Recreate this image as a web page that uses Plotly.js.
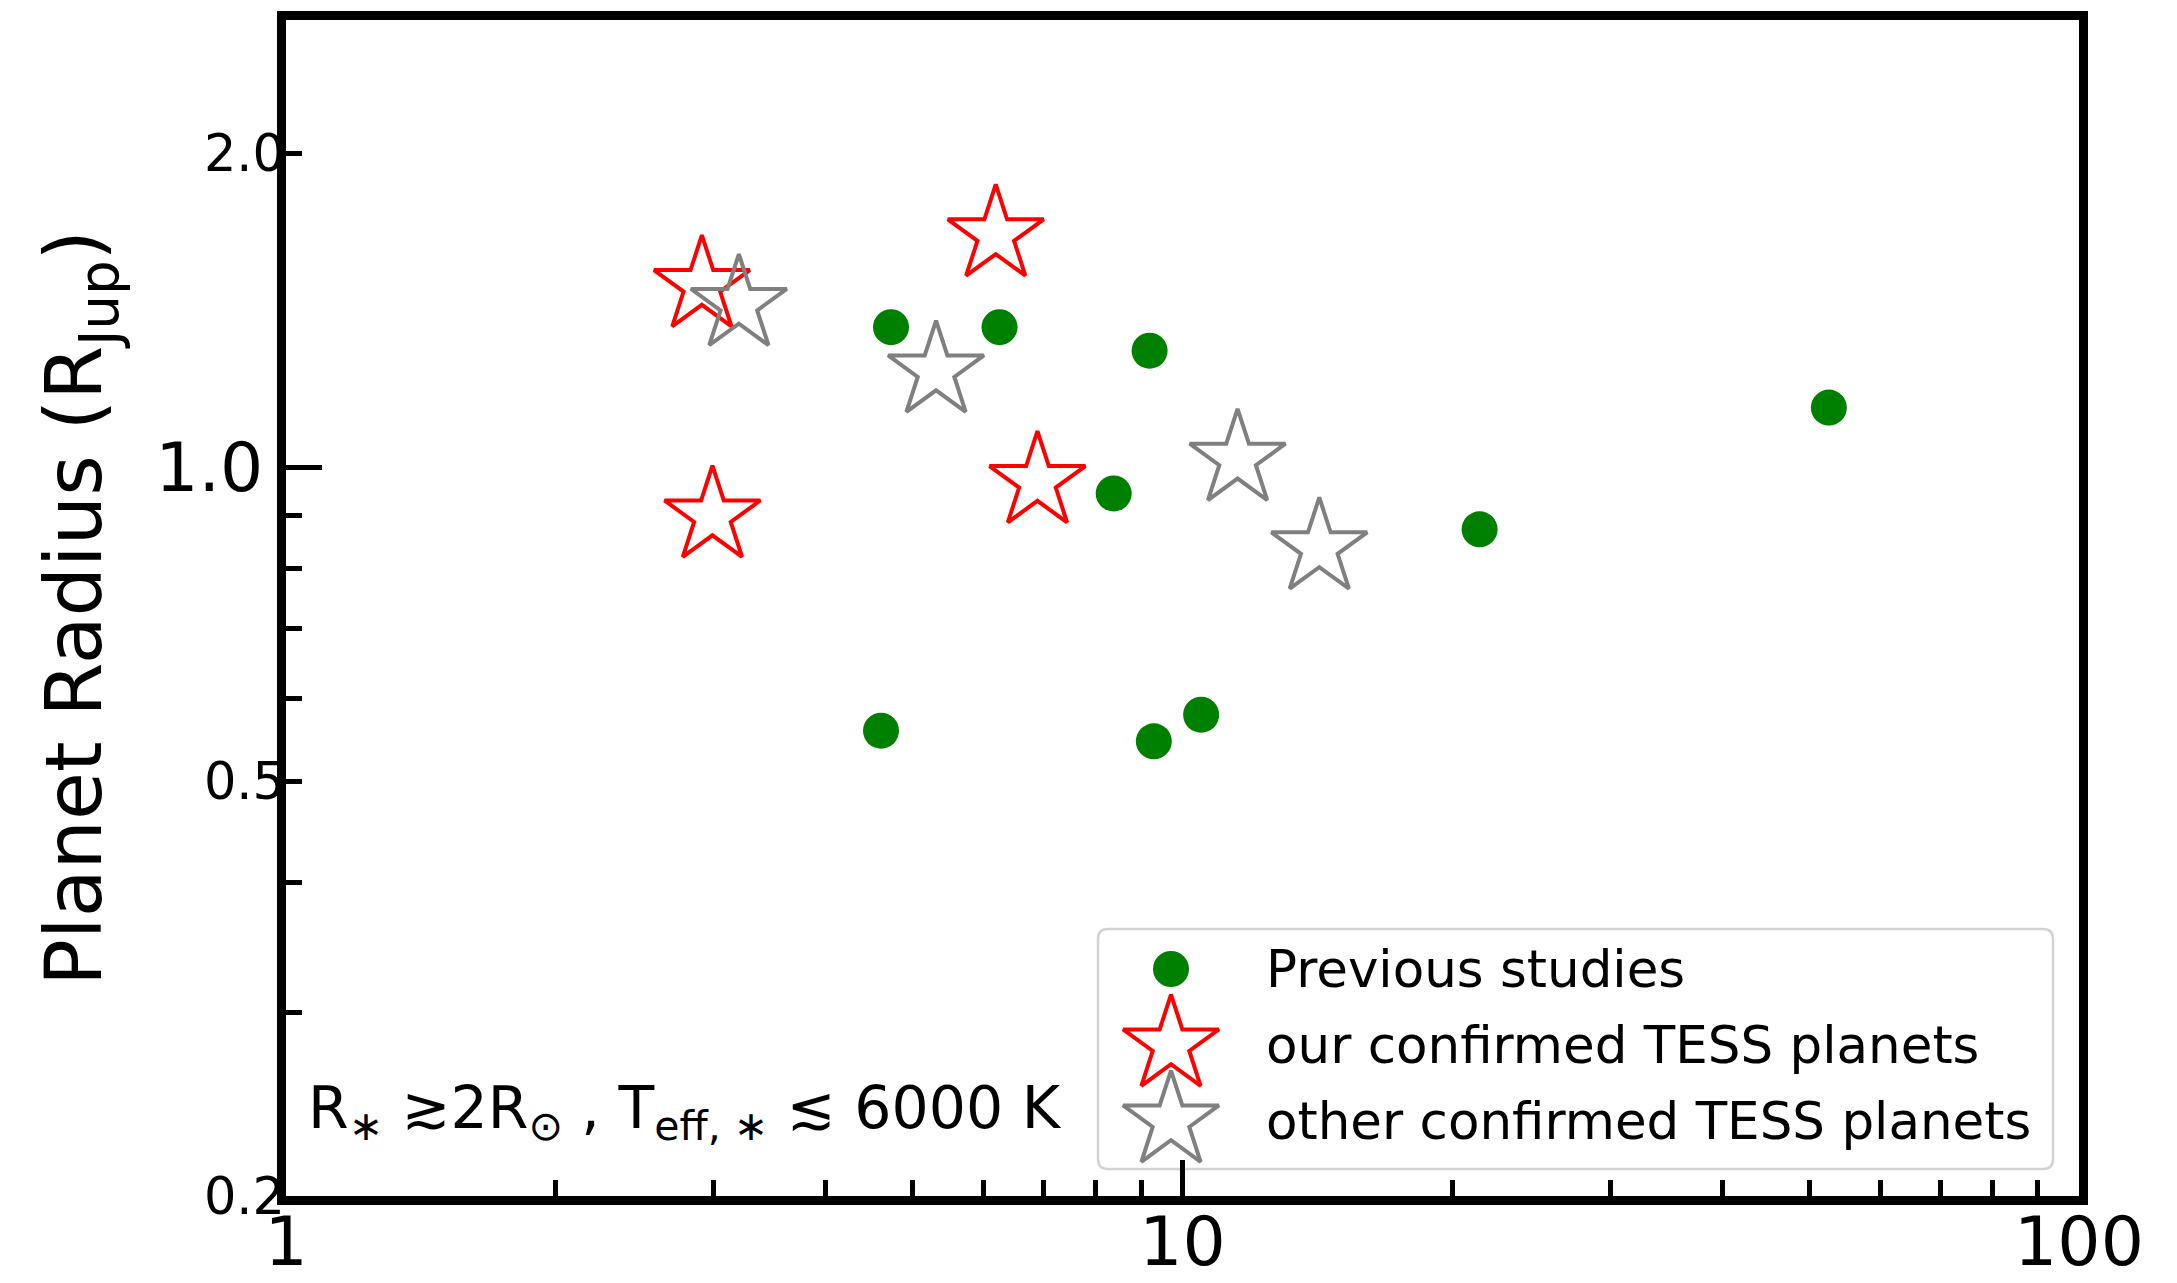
<!DOCTYPE html>
<html>
<head>
<meta charset="utf-8">
<script src="https://cdn.plot.ly/plotly-3.0.1.min.js"></script>
<style>html,body{margin:0;padding:0;background:#ffffff;}</style>
</head>
<body>
<div id="chart" style="width:2177px;height:1283px;"></div>
<script>
// ---- data (orbital period in days, planet radius in R_Jup) ----
const previousPeriod = [4.73, 6.25, 9.19, 52.6, 8.38, 21.45, 4.61, 9.29, 10.49];
const previousRadius = [1.363, 1.363, 1.294, 1.141, 0.944, 0.872, 0.559, 0.546, 0.579];
const ourPeriod = [2.91, 6.19, 2.99, 6.89];
const ourRadius = [1.494, 1.671, 0.898, 0.969];
const otherPeriod = [3.20, 5.31, 11.52, 14.21];
const otherRadius = [1.433, 1.237, 1.018, 0.837];

const seriesNames = ['Previous studies', 'our confirmed TESS planets', 'other confirmed TESS planets'];

const xTickVals = [1, 10, 100];
const xTickText = ['1', '10', '100'];
const xMinorVals = [2, 3, 4, 5, 6, 7, 8, 9, 20, 30, 40, 50, 60, 70, 80, 90];
const yBigVals = [1];
const yBigText = ['1.0'];
const ySmallVals = [0.2, 0.5, 2];
const ySmallText = ['0.2', '0.5', '2.0'];
const yMinorVals = [0.3, 0.4, 0.6, 0.7, 0.8, 0.9];

const xRange = [1, 100];
const yRange = [0.2, 2.686];

const noteText = 'R<sub>∗</sub> ≳2R<sub>⊙</sub> , T<sub>eff, ∗</sub> ≲ 6000 K';
const yTitle = 'Planet Radius (R<sub>Jup</sub>)';

// ---- layout geometry (pixels) ----
const W = 2177, H = 1283;
const M = {l: 286, r: 98, t: 20, b: 87};
const FONT = 'DejaVu Sans';

const GREEN = '#008000', RED = '#ff0000', GRAY = '#808080';
const STAR_SIZE = 72, DOT_SIZE = 36, STAR_LW = 4;

const traces = [
  {x: previousPeriod, y: previousRadius, name: seriesNames[0], type: 'scatter', mode: 'markers',
   yaxis: 'y2',
   marker: {symbol: 'circle', size: DOT_SIZE, color: GREEN, line: {width: 0}}},
  {x: ourPeriod, y: ourRadius, name: seriesNames[1], type: 'scatter', mode: 'markers',
   marker: {symbol: 'star-open', size: STAR_SIZE, color: RED, line: {width: STAR_LW, color: RED}}},
  {x: otherPeriod, y: otherRadius, name: seriesNames[2], type: 'scatter', mode: 'markers',
   marker: {symbol: 'star-open', size: STAR_SIZE, color: GRAY, line: {width: STAR_LW, color: GRAY}}}
];

// legend (drawn in a pixel-coordinate overlay so the symbols keep their plotted size)
const legendBox = {x0: 1098, x1: 2053, y0: 929, y1: 1169, r: 10};
const legendSymbolX = 1171;
const legendRowY = [969, 1045, 1121];
const legendTextX = 1264;

[traces[0].marker, traces[1].marker, traces[2].marker].forEach(function (mk, i) {
  traces.push({x: [legendSymbolX], y: [legendRowY[i]], xaxis: 'x2', yaxis: 'y3',
    type: 'scatter', mode: 'markers', showlegend: false, hoverinfo: 'skip', marker: mk});
});

const b = legendBox;
const roundRect = 'M ' + (b.x0 + b.r) + ' ' + b.y0 + ' L ' + (b.x1 - b.r) + ' ' + b.y0 +
  ' Q ' + b.x1 + ' ' + b.y0 + ' ' + b.x1 + ' ' + (b.y0 + b.r) +
  ' L ' + b.x1 + ' ' + (b.y1 - b.r) + ' Q ' + b.x1 + ' ' + b.y1 + ' ' + (b.x1 - b.r) + ' ' + b.y1 +
  ' L ' + (b.x0 + b.r) + ' ' + b.y1 + ' Q ' + b.x0 + ' ' + b.y1 + ' ' + b.x0 + ' ' + (b.y1 - b.r) +
  ' L ' + b.x0 + ' ' + (b.y0 + b.r) + ' Q ' + b.x0 + ' ' + b.y0 + ' ' + (b.x0 + b.r) + ' ' + b.y0 + ' Z';

const annotations = seriesNames.map(function (t, i) {
  return {xref: 'x2', yref: 'y3', x: legendTextX, y: legendRowY[i], text: t, showarrow: false,
    xanchor: 'left', yanchor: 'middle', font: {family: FONT, size: 51.5, color: '#000'}};
});
annotations.push({xref: 'x2', yref: 'y3', x: 306, y: 1112, text: noteText, showarrow: false,
  xanchor: 'left', yanchor: 'middle', font: {family: FONT, size: 58.5, color: '#000'}});

const axisCommon = {
  showgrid: false, zeroline: false, ticks: 'inside', tickcolor: '#000', tickwidth: 5,
  color: '#000'
};

const layout = {
  width: W, height: H,
  margin: M,
  paper_bgcolor: '#ffffff', plot_bgcolor: '#ffffff',
  showlegend: false,
  font: {family: FONT, color: '#000'},
  xaxis: Object.assign({}, axisCommon, {
    type: 'log', range: [Math.log10(xRange[0]), Math.log10(xRange[1])],
    tickmode: 'array', tickvals: xTickVals, ticktext: xTickText, ticklen: 36,
    ticklabelstandoff: -22,
    tickfont: {family: FONT, size: 68, color: '#000'},
    minor: {tickmode: 'array', tickvals: xMinorVals, ticks: 'inside', ticklen: 16, tickwidth: 5, tickcolor: '#000', showgrid: false},
    showline: true, linecolor: '#000', linewidth: 9, mirror: true
  }),
  yaxis: Object.assign({}, axisCommon, {
    type: 'log', range: [Math.log10(yRange[0]), Math.log10(yRange[1])],
    tickmode: 'array', tickvals: yBigVals, ticktext: yBigText, ticklen: 36,
    tickfont: {family: FONT, size: 68, color: '#000'},
    minor: {tickmode: 'array', tickvals: yMinorVals, ticks: 'inside', ticklen: 16, tickwidth: 5, tickcolor: '#000', showgrid: false},
    showline: true, linecolor: '#000', linewidth: 9, mirror: true,
    title: {text: yTitle, font: {family: FONT, size: 78, color: '#000'}, standoff: 31}
  }),
  yaxis2: Object.assign({}, axisCommon, {
    type: 'log', range: [Math.log10(yRange[0]), Math.log10(yRange[1])],
    overlaying: 'y', side: 'left', anchor: 'x',
    tickmode: 'array', tickvals: ySmallVals, ticktext: ySmallText, ticklen: 16,
    tickfont: {family: FONT, size: 51, color: '#000'},
    showline: false
  }),
  xaxis2: {domain: [0, 1], range: [M.l, W - M.r], overlaying: 'x', anchor: 'y3', visible: false, fixedrange: true},
  yaxis3: {domain: [0, 1], range: [H - M.b, M.t], overlaying: 'y', anchor: 'x2', visible: false, fixedrange: true},
  shapes: [
    {type: 'path', xref: 'x2', yref: 'y3', path: roundRect, layer: 'below',
     fillcolor: 'rgba(255,255,255,0.8)', line: {color: '#d3d3d3', width: 2.5}}
  ],
  annotations: annotations
};

Plotly.newPlot('chart', traces, layout, {staticPlot: true, displayModeBar: false});
</script>
</body>
</html>
